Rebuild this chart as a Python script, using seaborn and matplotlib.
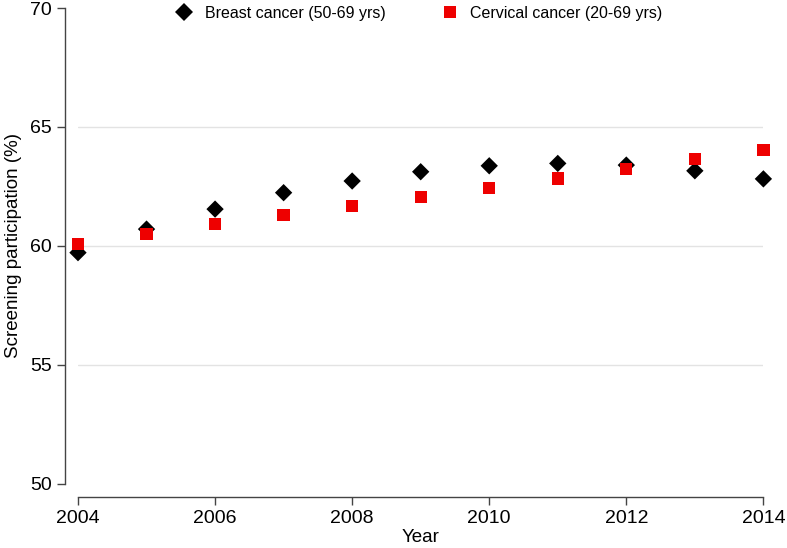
import matplotlib
matplotlib.use("Agg")
import matplotlib.pyplot as plt
import seaborn as sns
import pandas as pd

years = [2004, 2005, 2006, 2007, 2008, 2009, 2010, 2011, 2012, 2013, 2014]
breast = [59.72, 60.71, 61.55, 62.24, 62.73, 63.12, 63.37, 63.47, 63.40, 63.16, 62.82]
cervical = [60.08, 60.49, 60.91, 61.29, 61.68, 62.07, 62.45, 62.84, 63.25, 63.66, 64.03]
series_names = ["Breast cancer (50-69 yrs)", "Cervical cancer (20-69 yrs)"]
x_ticks = [2004, 2006, 2008, 2010, 2012, 2014]
y_ticks = [50, 55, 60, 65, 70]

df = pd.DataFrame({
    "Year": years * 2,
    "value": breast + cervical,
    "series": [series_names[0]] * len(years) + [series_names[1]] * len(years),
})

sns.set_style("white")
plt.rcParams['font.family'] = ['Liberation Sans', 'DejaVu Sans']

fig = plt.figure(figsize=(7.87, 5.48), dpi=100)
ax = fig.add_axes([0.0991, 0.1168, 0.970 - 0.0991, 0.9854 - 0.1168])

for yv in [55, 60, 65]:
    ax.axhline(yv, color="#e3e3e3", lw=1.0, zorder=0)

sns.scatterplot(
    data=df, x="Year", y="value", hue="series", style="series",
    palette={series_names[0]: "black", series_names[1]: "#ee0000"},
    markers={series_names[0]: "D", series_names[1]: "s"},
    s=78, edgecolor="none", linewidth=0, ax=ax, zorder=3, clip_on=False,
)

ax.set_xlim(2004, 2014)
ax.set_ylim(50, 70)
ax.set_xticks(x_ticks)
ax.set_yticks(y_ticks)
ax.set_xticklabels([str(t) for t in x_ticks])
ax.set_yticklabels([str(t) for t in y_ticks])
ax.tick_params(axis="both", labelsize=14, color="#444444", labelcolor="#000000",
               length=6, width=1, direction="out", left=True, bottom=True)

ax.set_xlabel("Year", fontsize=13.5, color="#000000", labelpad=1)
ax.set_ylabel("Screening participation (%)", fontsize=13.5, color="#000000", labelpad=6)

sns.despine(ax=ax, offset=9.5)
for sp in ["left", "bottom"]:
    ax.spines[sp].set_color("#444444")
    ax.spines[sp].set_linewidth(1.0)

sns.move_legend(ax, "center", bbox_to_anchor=(0.528, 0.976),
                bbox_transform=fig.transFigure, ncol=2, frameon=False, title=None,
                fontsize=11.5, columnspacing=3.0, handletextpad=0.3, markerscale=1.0)
for t in ax.get_legend().get_texts():
    t.set_color("#000000")

fig.savefig("out.png", dpi=100)
